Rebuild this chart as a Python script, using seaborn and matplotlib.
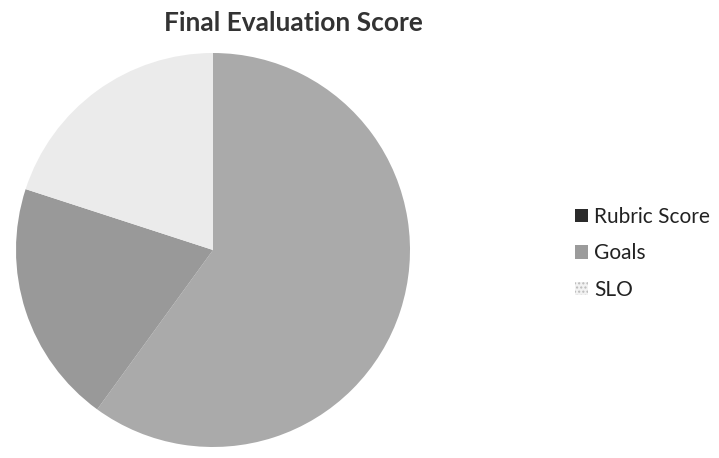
import matplotlib
matplotlib.use("Agg")
import matplotlib.pyplot as plt
from matplotlib.patches import Patch
import seaborn as sns

# data (shares of the final score)
labels = ["Rubric Score", "Goals", "SLO"]
shares = [60, 20, 20]
slice_colors = ["#aaaaaa", "#999999", "#ebebeb"]
legend_colors = ["#2b2b2b", "#9b9b9b", "#e2e2e2"]

sns.set_theme(style="white")
plt.rcParams["font.family"] = ["Lato", "DejaVu Sans"]

fig = plt.figure(figsize=(7.19, 4.58), dpi=100)
ax = fig.add_axes([16 / 719, 11 / 458, 394 / 719, 394 / 458])
wedges, _ = ax.pie(
    shares, colors=slice_colors, startangle=90, counterclock=False,
    radius=1.0, wedgeprops={"linewidth": 0},
)
ax.set_xlim(-1, 1)
ax.set_ylim(-1, 1)
ax.set_aspect("equal")
ax.axis("off")

fig.text(0.408, 0.950, "Final Evaluation Score", ha="center", va="center",
         fontsize=19, fontweight="bold", color="#333333")

handles = [Patch(facecolor=c, edgecolor="none") for c in legend_colors]
handles[2] = Patch(facecolor="#f2f2f2", edgecolor="#bbbbbb", hatch="....", linewidth=0)
fig.legend(handles, labels, loc="center left", bbox_to_anchor=(0.774, 0.447),
           frameon=False, fontsize=15, handlelength=0.6, handleheight=0.6,
           handletextpad=0.3, labelspacing=0.8, labelcolor="#222222")

fig.savefig("out.png", dpi=100)
plt.close(fig)
